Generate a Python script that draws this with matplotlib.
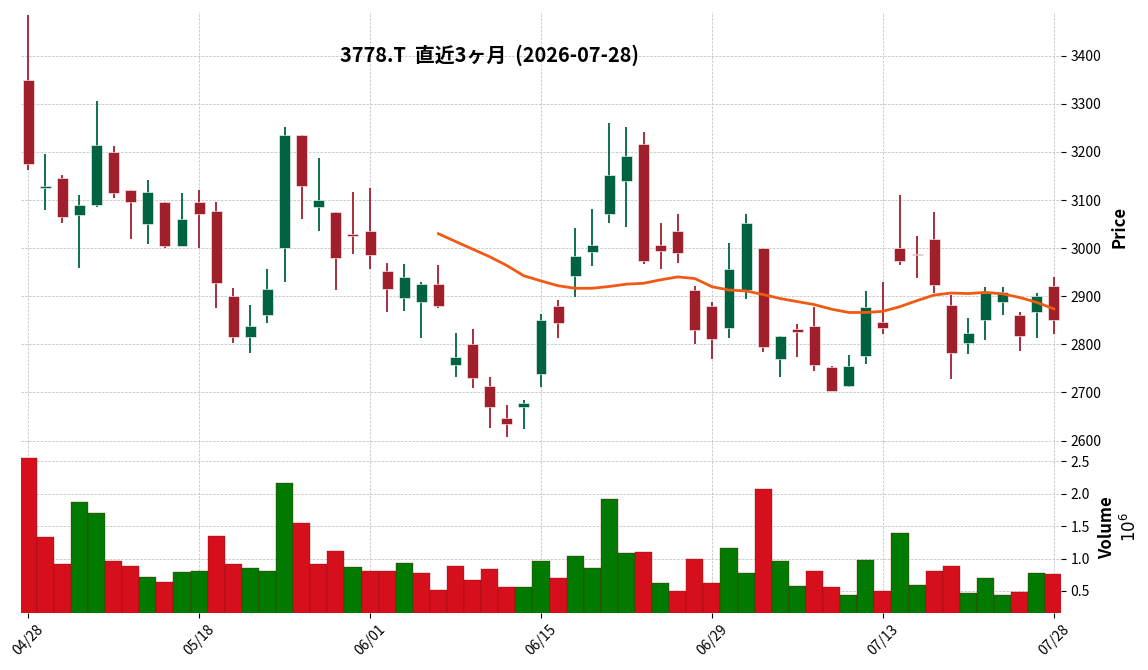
import numpy as np
import pandas as pd
import matplotlib
matplotlib.use("Agg")
import matplotlib.pyplot as plt

plt.rcParams["font.family"] = ["Noto Sans CJK JP", "DejaVu Sans"]

# trading days (TSE holidays removed)
holidays = ["2026-04-29", "2026-05-04", "2026-05-05", "2026-05-06", "2026-07-20"]
dates = pd.bdate_range("2026-04-28", "2026-07-28")
dates = dates[~dates.isin(pd.to_datetime(holidays))]

# OHLC
opens = [3350, 3126, 3145, 3068, 3090, 3200, 3120, 3050, 3095, 3005,
         3095, 3077, 2900, 2816, 2860, 3000, 3235, 3085, 3075, 3030,
         3035, 2952, 2897, 2889, 2925, 2758, 2800, 2713, 2647, 2670,
         2739, 2880, 2943, 2991, 3070, 3140, 3216, 3007, 3035, 2912,
         2880, 2835, 2913, 3000, 2769, 2832, 2838, 2753, 2714, 2775,
         2847, 3000, 2986, 3020, 2881, 2803, 2850, 2889, 2862, 2868,
         2921]
highs = [3485, 3195, 3152, 3110, 3305, 3212, 3120, 3141, 3095, 3115,
         3120, 3095, 2917, 2881, 2956, 3251, 3235, 3187, 3075, 3116,
         3126, 2969, 2967, 2930, 2965, 2823, 2831, 2732, 2674, 2685,
         2864, 2893, 3041, 3081, 3261, 3251, 3241, 3052, 3070, 2921,
         2889, 3010, 3070, 3000, 2818, 2843, 2878, 2756, 2777, 2911,
         2930, 3110, 3026, 3076, 2902, 2854, 2920, 2920, 2868, 2906,
         2941]
lows = [3162, 3080, 3052, 2958, 3085, 3105, 3020, 3009, 3000, 3005,
        3000, 2875, 2803, 2782, 2844, 2929, 3060, 3035, 2912, 2987,
        2956, 2867, 2869, 2813, 2875, 2732, 2709, 2626, 2608, 2624,
        2711, 2813, 2899, 2963, 3052, 3045, 2967, 2957, 2969, 2800,
        2769, 2813, 2894, 2784, 2732, 2774, 2744, 2704, 2712, 2759,
        2821, 2965, 2939, 2906, 2728, 2780, 2810, 2860, 2786, 2813,
        2821]
closes = [3175, 3130, 3065, 3090, 3215, 3115, 3095, 3117, 3005, 3060,
          3070, 2928, 2815, 2838, 2915, 3235, 3130, 3100, 2980, 3026,
          2985, 2916, 2940, 2925, 2879, 2774, 2731, 2670, 2635, 2678,
          2850, 2845, 2984, 3007, 3152, 3191, 2974, 2995, 2989, 2829,
          2812, 2956, 3052, 2794, 2818, 2826, 2758, 2704, 2755, 2877,
          2835, 2974, 2985, 2923, 2783, 2823, 2906, 2908, 2818, 2900,
          2850]
# volume in millions of shares
volume_m = [2.55, 1.33, 0.915, 1.87, 1.70, 0.96, 0.885, 0.715, 0.64, 0.79,
            0.81, 1.345, 0.915, 0.855, 0.81, 2.16, 1.545, 0.915, 1.115, 0.87,
            0.81, 0.81, 0.93, 0.78, 0.515, 0.885, 0.67, 0.84, 0.56, 0.56,
            0.96, 0.70, 1.04, 0.855, 1.915, 1.085, 1.10, 0.625, 0.50, 0.99,
            0.625, 1.16, 0.78, 2.07, 0.96, 0.58, 0.81, 0.56, 0.44, 0.975,
            0.50, 1.39, 0.59, 0.81, 0.885, 0.47, 0.70, 0.44, 0.485, 0.78,
            0.76]

df = pd.DataFrame({"Open": opens, "High": highs, "Low": lows,
                   "Close": closes, "Volume": volume_m}, index=dates)
df["MA25"] = df["Close"].rolling(25).mean()

up_candle = "#006340"
down_candle = "#a01f2a"
up_vol = "#007a00"
down_vol = "#d60f1c"
ma_color = "#f05a14"

x = np.arange(len(df))

fig = plt.figure(figsize=(11.48, 6.70), dpi=100)
ax = fig.add_axes([0.0183, 0.3403, 0.9059, 0.6418])
axv = fig.add_axes([0.0183, 0.0851, 0.9059, 0.2552], sharex=ax)

# candles
is_up = df["Close"] >= df["Open"]
ccol = np.where(is_up, up_candle, down_candle)
ax.vlines(x, df["Low"], df["High"], colors=ccol, linewidth=1.3, zorder=2)
body_bot = np.minimum(df["Open"], df["Close"])
body_h = np.maximum((df["Close"] - df["Open"]).abs(), 2)
ax.bar(x, body_h, bottom=body_bot, width=0.64, color=ccol,
       edgecolor="white", linewidth=0.4, zorder=3)

ax.plot(x, df["MA25"], color=ma_color, linewidth=2, zorder=4)

# volume colored by close vs previous close
prev_close = df["Close"].shift(1).fillna(df["Open"])
vcol = np.where(df["Close"] >= prev_close, up_vol, down_vol)
axv.bar(x, df["Volume"], width=1.0, color=vcol, edgecolor="#7a1010",
        linewidth=0.25, zorder=2)

ax.set_xlim(-0.42, 60.42)
ax.set_ylim(2597, 3491)
axv.set_ylim(0.16, 2.8)

for a in (ax, axv):
    for s in a.spines.values():
        s.set_visible(False)
    a.yaxis.tick_right()
    a.yaxis.set_label_position("right")
    a.grid(True, linestyle=(0, (3, 1.6)), color="#c4c4c4", linewidth=0.6)
    a.set_axisbelow(True)
    a.tick_params(axis="y", labelsize=10, length=3.5, width=0.8)

ax.set_yticks([2600, 2700, 2800, 2900, 3000, 3100, 3200, 3300, 3400])
axv.set_yticks([0.5, 1.0, 1.5, 2.0, 2.5])
axv.set_yticklabels(["0.5", "1.0", "1.5", "2.0", "2.5"])

tick_pos = x[::10]
axv.set_xticks(tick_pos)
axv.set_xticklabels([d.strftime("%m/%d") for d in dates[::10]],
                    rotation=45, fontsize=10)
axv.tick_params(axis="x", length=3.5, width=0.8)
ax.tick_params(axis="x", labelbottom=False, length=0)

ax.set_ylabel("Price", fontsize=12, fontweight="bold", labelpad=6)
axv.set_ylabel("Volume\n$10^{6}$", fontsize=12, fontweight="bold", labelpad=6)

fig.text(0.4268, 0.918, "3778.T  直近3ヶ月  (2026-07-28)",
         ha="center", va="center", fontsize=14.3, fontweight="bold")

fig.savefig("out.png", dpi=100)
